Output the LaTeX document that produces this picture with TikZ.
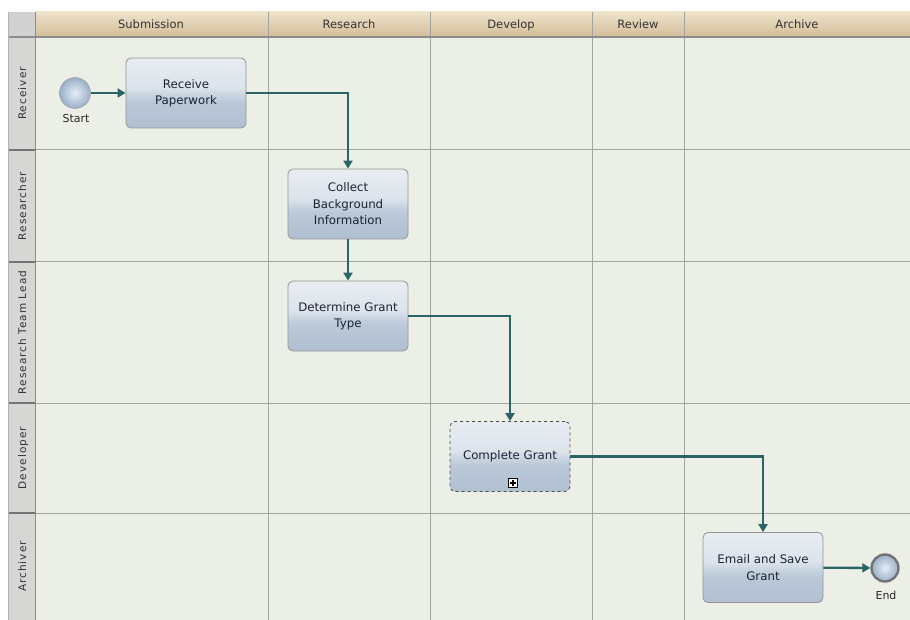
\documentclass[tikz,border=0pt]{standalone}
\usepackage{fontspec}
\setmainfont{DejaVu Sans}
\newfontfamily\lanefont[LetterSpace=10]{DejaVu Sans}
\usetikzlibrary{arrows.meta,shadings}
\definecolor{bgc}{HTML}{ECEFE6}
\definecolor{lanec}{HTML}{D6D6D4}
\definecolor{gridc}{HTML}{A2A4A0}
\definecolor{hdtop}{HTML}{EEE2CA}
\definecolor{hdbot}{HTML}{D3BD98}
\definecolor{tb}{HTML}{A4B5C9}
\definecolor{tm}{HTML}{BAC8D8}
\definecolor{tl}{HTML}{DCE3EB}
\definecolor{tt}{HTML}{F6F8FA}
\definecolor{edgec}{HTML}{2B6466}
\definecolor{txtc}{HTML}{1A2433}
\definecolor{ballin}{HTML}{E6EEF6}
\definecolor{ballout}{HTML}{98AFC8}
\pgfdeclareverticalshading{taskshade}{100bp}{color(0bp)=(tb); color(44bp)=(tm); color(54bp)=(tl); color(100bp)=(tt)}
\tikzset{
  task/.style={rectangle, rounded corners=5pt, draw=black!42, line width=0.8pt,
    shading=taskshade, minimum width=120pt, minimum height=70pt,
    align=center, text=txtc, font=\fontsize{11.8}{16.5}\selectfont, inner sep=2pt},
  subtask/.style={task, draw=black!70, dashed},
  evstart/.style={circle, inner color=ballin, outer color=ballout, draw=black!35, line width=0.6pt, minimum size=31pt, inner sep=0pt},
  evend/.style={circle, inner color=ballin, outer color=ballout, draw=black!55, line width=2.4pt, minimum size=27pt, inner sep=0pt},
  evlabel/.style={font=\fontsize{11}{12}\selectfont, text=black!85, inner sep=0pt},
  flow/.style={draw=edgec, line width=2.3pt, -{Triangle[length=8pt,width=9pt]}},
  hdr/.style={font=\fontsize{11.5}{12}\selectfont, text=black!80, inner sep=0pt, anchor=base},
  lanelbl/.style={font=\lanefont\fontsize{10.5}{11}\selectfont, text=black!80, rotate=90, inner sep=0pt, anchor=base},
  grid/.style={draw=gridc, line width=1pt},
}
\begin{document}
\begin{tikzpicture}[x=1pt,y=-1pt]
\useasboundingbox (0,0) rectangle (910,620);
\fill[white] (0,0) rectangle (910,620);
% background areas
\fill[bgc] (35,37) rectangle (910,620);
\fill[lanec] (8,37) rectangle (35,620);
\shade[top color=hdtop, bottom color=hdbot] (35,12) rectangle (910,37);
\fill[black!18] (8,12) rectangle (35,37);
% grid
\foreach \x in {268,430,592,684} { \draw[grid] (\x,12) -- (\x,620); }
\foreach \y in {150,262,403,513} { \draw[grid] (35,\y) -- (910,\y); \draw[black!55, line width=1.6pt] (8,\y) -- (35,\y); }
\draw[black!45, line width=1.2pt] (8,37) -- (910,37);
\draw[black!45, line width=1pt] (35,12) -- (35,620);
\draw[black!30, line width=0.8pt] (8,12) -- (8,620);
% headers
\node[hdr] (hsub) at (151,29) {Submission};
\node[hdr] (hres) at (349,29) {Research};
\node[hdr] (hdev) at (511,29) {Develop};
\node[hdr] (hrev) at (638,29) {Review};
\node[hdr] (harc) at (797,29) {Archive};
% lane labels
\node[lanelbl] (lrec) at (26,93.5) {Receiver};
\node[lanelbl] (lrsr) at (26,206) {Researcher};
\node[lanelbl] (lrtl) at (26,332.5) {Research Team Lead};
\node[lanelbl] (ldev) at (26,458) {Developer};
\node[lanelbl] (larc) at (26,566.5) {Archiver};
% events and tasks
\node[evstart] (start) at (75,93) {};
\node[evlabel] (startlbl) at (76,118) {Start};
\node[task] (rp) at (186,93) {Receive\\Paperwork};
\node[task] (cb) at (348,204) {Collect\\Background\\Information};
\node[task] (dg) at (348,316) {Determine Grant\\Type};
\node[subtask] (cg) at (510,456.5) {Complete Grant};
\node[rectangle, draw=black, fill=white, line width=0.8pt, minimum size=9pt, inner sep=0pt] (mk) at (513,483) {};
\draw[black, line width=1.4pt] ([xshift=-3pt]mk.center) -- ([xshift=3pt]mk.center) ([yshift=-3pt]mk.center) -- ([yshift=3pt]mk.center);
\node[task] (es) at (763,567.5) {Email and Save\\Grant};
\node[evend] (end) at (885,568) {};
\node[evlabel] (endlbl) at (886,595) {End};
% flows
\draw[flow] (start) -- (rp);
\draw[flow] (rp.east) -| (cb.north);
\draw[flow] (cb) -- (dg);
\draw[flow] (dg.east) -| (cg.north);
\draw[flow] (cg.east) -| (es.north);
\draw[flow] (es) -- (end);
\end{tikzpicture}
\end{document}
